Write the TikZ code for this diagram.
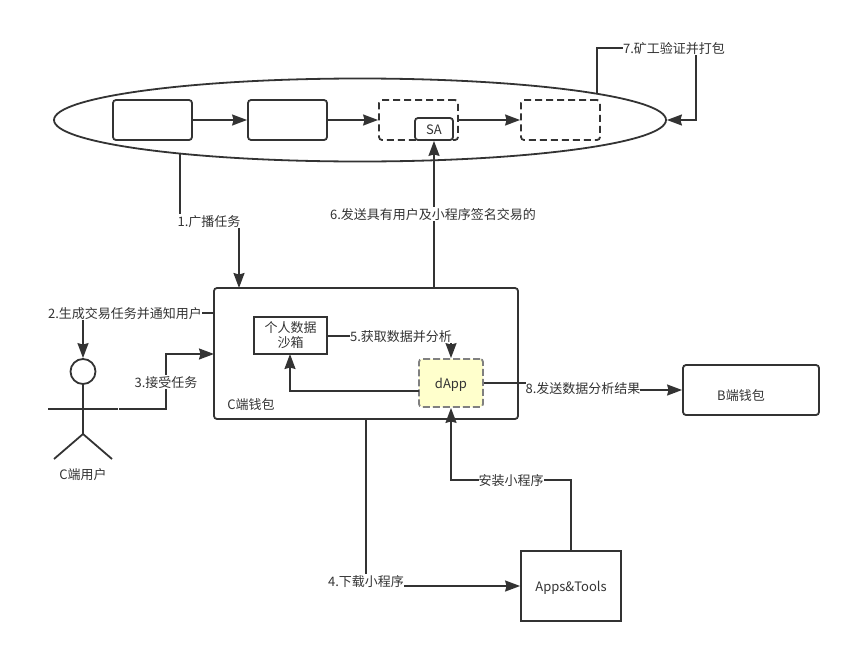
\documentclass[tikz,border=0pt]{standalone}
\usepackage{fontspec}
\setmainfont{Noto Sans CJK SC}
\usetikzlibrary{positioning,shapes.geometric,arrows.meta}
\definecolor{ink}{HTML}{333333}
\definecolor{dashgray}{HTML}{808080}
\definecolor{paleyellow}{HTML}{FFFFCC}

\begin{document}
\begin{tikzpicture}[
    x=1pt, y=-1pt,
    line width=1.8pt, draw=ink, text=ink,
    block/.style={rectangle, draw=ink, rounded corners=3pt, minimum height=40pt, minimum width=79pt, inner sep=0pt},
    dashblock/.style={block, dash pattern=on 7pt off 4pt},
    arrow/.style={-{Stealth[length=15pt, width=11pt, inset=1.5pt]}, ink},
    plain/.style={ink},
    oneline/.style={text height=12.5pt, text depth=1.5pt},
    note/.style={font=\fontsize{13pt}{15pt}\selectfont, fill=white, inner sep=0pt, text=ink, oneline},
    caption/.style={font=\fontsize{13pt}{15pt}\selectfont, inner sep=0pt, text=ink, align=center}
]
\useasboundingbox (0,0) rectangle (853,653);

% Chain
\node[ellipse, draw=ink, minimum width=612pt, minimum height=83pt, inner sep=0pt] (chain) at (360,120) {};
\node[block] (blockA) at (152.5,120) {};
\node[block, right=54.2pt of blockA] (blockB) {};
\node[dashblock, right=50.2pt of blockB] (blockC) {};
\node[dashblock, right=61.2pt of blockC] (blockD) {};
\node[block, minimum width=38pt, minimum height=22pt, caption, oneline] (sa) at (434,129) {SA};

% Wallets and boxes
\node[block, minimum width=304pt, minimum height=131pt] (wallet) at (366,353.5) {};
\node[caption, oneline] (walletname) at (251,404) {C端钱包};
\node[rectangle, draw=ink, minimum width=73pt, minimum height=37pt, inner sep=0pt, caption] (sandbox) at (290.5,335.5) {个人数据\\沙箱};
\node[block, draw=dashgray, fill=paleyellow, dash pattern=on 7pt off 3pt, minimum width=64pt, minimum height=48pt, caption, oneline] (dapp) at (451,383) {dApp};
\node[block, minimum width=136pt, minimum height=50pt] (bwallet) at (751,390) {};
\node[caption, oneline] (bwalletname) at (741,395) {B端钱包};
\node[rectangle, draw=ink, minimum width=100pt, minimum height=70pt, inner sep=0pt, caption, oneline] (apps) at (571,586) {Apps\&Tools};

% Actor
\node[circle, draw=ink, minimum size=25pt, inner sep=0pt] (head) at (83,371.5) {};
\coordinate (hip) at (83,434);
\coordinate (armL) at (48,409);
\coordinate (armR) at (118,409);
\coordinate (armOut) at (119,409);
\coordinate (footL) at (54,459);
\coordinate (footR) at (112,459);
\draw[plain] (head.south) -- (hip);
\draw[plain] (armL) -- (armR);
\draw[plain] (footL) -- (hip) -- (footR);
\node[caption, oneline] (actorname) at (83,474) {C端用户};

% Connector ends
\coordinate (bcastOut) at (180,153);
\coordinate (c1) at (209,221);
\coordinate (bcastIn) at (239,288);
\coordinate (notifyOut) at (214,313);
\coordinate (c2) at (125,313);
\coordinate (c3) at (166,382);
\coordinate (acceptIn) at (214,354);
\coordinate (downOut) at (366,419);
\coordinate (c4) at (366,581);
\coordinate (fetchOut) at (327,336);
\coordinate (c5) at (401,336);
\coordinate (c6) at (433,214);
\coordinate (sendOut) at (434,288);
\coordinate (minerOut) at (597,93);
\coordinate (c7) at (674,48);
\coordinate (minerIn) at (696,120);
\coordinate (c8) at (583,388);
\coordinate (c9) at (511,480);
\coordinate (dappOut) at (419,391);
\coordinate (sandboxIn) at (290,354);

% Arrows
\draw[arrow] (blockA) -- (blockB);
\draw[arrow] (blockB) -- (blockC);
\draw[arrow] (blockC) -- (blockD);
\draw[arrow] (bcastOut) |- (c1) -| (bcastIn);
\draw[arrow] (notifyOut) -| (head.north);
\draw[arrow] (armOut) -| (c3) |- (acceptIn);
\draw[arrow] (downOut) |- (apps.west);
\draw[arrow] (fetchOut) -| (dapp.north);
\draw[arrow] (dappOut) -| (sandboxIn);
\draw[arrow] (sendOut) -- (sa.south);
\draw[arrow] (minerOut) |- (c7) -| (minerIn) -- (chain.east);
\draw[arrow] (dapp.east) -| (c8) |- (bwallet.west);
\draw[arrow] (apps.north) |- (c9) -| (dapp.south);

% Labels
\node[note] (note1) at (c1) {1.广播任务};
\node[note] (note2) at (c2) {2.生成交易任务并通知用户};
\node[note] (note3) at (c3) {3.接受任务};
\node[note] (note4) at (c4) {4.下载小程序};
\node[note] (note5) at (c5) {5.获取数据并分析};
\node[note] (note6) at (c6) {6.发送具有用户及小程序签名交易的};
\node[note] (note7) at (c7) {7.矿工验证并打包};
\node[note] (note8) at (c8) {8.发送数据分析结果};
\node[note] (note9) at (c9) {安装小程序};
\end{tikzpicture}
\end{document}
